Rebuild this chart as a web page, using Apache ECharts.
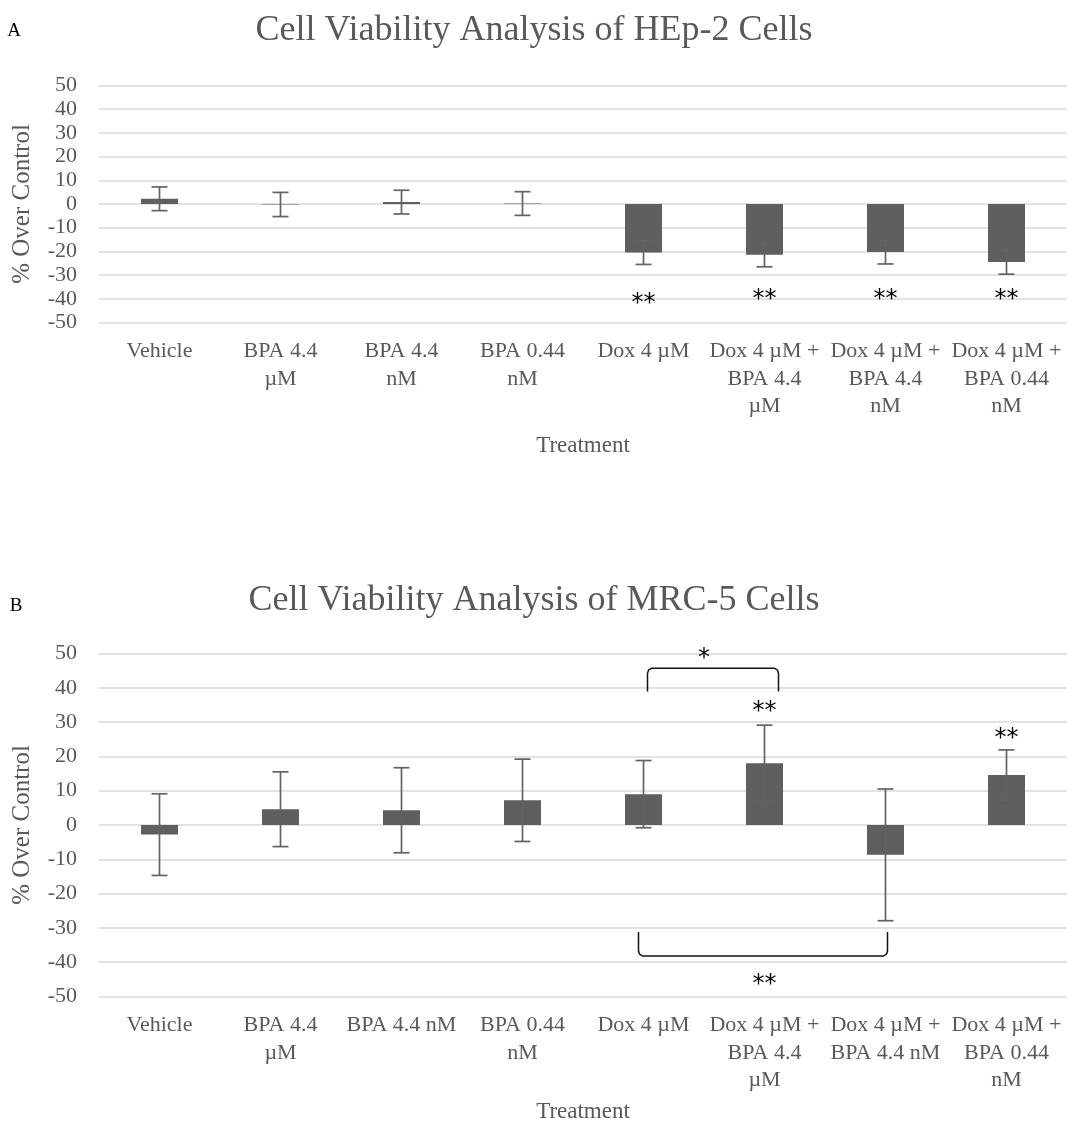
<!DOCTYPE html>
<html>
<head>
<meta charset="utf-8">
<script src="https://cdn.jsdelivr.net/npm/echarts@6/dist/echarts.min.js"></script>
<style>
  html, body { margin: 0; padding: 0; background: #fff; }
  #charts { width: 1084px; height: 1130px; }
</style>
</head>
<body>
<div id="charts"></div>
<script>
// categories as printed under each chart (line breaks as in the figure)
var hep2Cats = ['Vehicle', 'BPA 4.4\nµM', 'BPA 4.4\nnM', 'BPA 0.44\nnM', 'Dox 4 µM',
  'Dox 4 µM +\nBPA 4.4\nµM', 'Dox 4 µM +\nBPA 4.4\nnM', 'Dox 4 µM +\nBPA 0.44\nnM'];
var mrc5Cats = ['Vehicle', 'BPA 4.4\nµM', 'BPA 4.4 nM', 'BPA 0.44\nnM', 'Dox 4 µM',
  'Dox 4 µM +\nBPA 4.4\nµM', 'Dox 4 µM +\nBPA 4.4 nM', 'Dox 4 µM +\nBPA 0.44\nnM'];

// % over control, mean and error
var hep2Mean = [2.2, -0.2, 0.8, 0.2, -20.5, -21.4, -20.3, -24.5];
var hep2Err = [5.0, 5.1, 5.0, 5.0, 5.0, 5.1, 5.0, 5.1];
var mrc5Mean = [-2.8, 4.6, 4.3, 7.2, 9.0, 18.0, -8.7, 14.6];
var mrc5Err = [11.9, 10.9, 12.4, 12.0, 9.8, 11.1, 19.2, 7.3];

// significance marks: from/to category, text, y value
var hep2StarFrom = [4, 5, 6, 7];
var hep2StarTo = [4, 5, 6, 7];
var hep2StarText = ['**', '**', '**', '**'];
var hep2StarY = [-40, -38.4, -38.4, -38.4];

var mrc5StarFrom = [4, 5, 7, 4];
var mrc5StarTo = [5, 5, 7, 6];
var mrc5StarText = ['*', '**', '**', '**'];
var mrc5StarY = [50, 34.5, 26.5, -45.2];

// brackets: from/to category, y of the bar, y where the legs end
var mrc5BrFrom = [4, 4];
var mrc5BrTo = [5, 6];
var mrc5BrBar = [45.7, -38.2];
var mrc5BrLeg = [38.9, -31.2];

var yTicks = { min: -50, max: 50, interval: 10 };

var serif = '"Liberation Serif", "Times New Roman", serif';
var grey = '#595959';
var barColor = '#5f5f5f';
// hand-drawn brackets don't sit exactly on bar centres (px nudges for left/right ends)
var bracketNudge = [[4, 14], [-5, 2]];

function zip() {
  var arrs = Array.prototype.slice.call(arguments);
  return arrs[0].map(function (v, i) {
    return arrs.map(function (a) { return a[i]; });
  });
}

function errorItem(params, api) {
  var i = api.value(0);
  var hi = api.coord([i, api.value(1) + api.value(2)]);
  var lo = api.coord([i, api.value(1) - api.value(2)]);
  var w = 8;
  var st = { stroke: '#636363', lineWidth: 1.7 };
  return {
    type: 'group',
    children: [
      { type: 'line', shape: { x1: hi[0], y1: hi[1], x2: lo[0], y2: lo[1] }, style: st },
      { type: 'line', shape: { x1: hi[0] - w, y1: hi[1], x2: hi[0] + w, y2: hi[1] }, style: st },
      { type: 'line', shape: { x1: lo[0] - w, y1: lo[1], x2: lo[0] + w, y2: lo[1] }, style: st }
    ]
  };
}

function starItem(params, api) {
  var a = api.coord([api.value(0), api.value(3)]);
  var b = api.coord([api.value(1), api.value(3)]);
  return {
    type: 'text',
    x: (a[0] + b[0]) / 2,
    y: a[1] + 5, // asterisks sit high in the em box
    style: {
      text: api.value(2),
      font: '24px "DejaVu Sans", sans-serif',
      fill: '#000',
      textAlign: 'center',
      textVerticalAlign: 'middle'
    }
  };
}

function bracketItem(params, api) {
  var a = api.coord([api.value(0), api.value(2)]);
  var b = api.coord([api.value(1), api.value(2)]);
  var legY = api.coord([api.value(0), api.value(3)])[1];
  var barY = a[1];
  var d = legY > barY ? 1 : -1;
  var n = bracketNudge[params.dataIndex] || [0, 0];
  var x1 = a[0] + n[0], x2 = b[0] + n[1];
  var pts = [
    [x1, legY], [x1, barY + 5 * d], [x1 + 1, barY + 2 * d], [x1 + 4, barY],
    [x2 - 4, barY], [x2 - 1, barY + 2 * d], [x2, barY + 5 * d], [x2, legY]
  ];
  return {
    type: 'polyline',
    shape: { points: pts },
    style: { stroke: '#111', lineWidth: 1.5, fill: null }
  };
}

function xAxisFor(cats, idx, gap) {
  return {
    type: 'category', gridIndex: idx, data: cats,
    name: 'Treatment', nameLocation: 'middle', nameGap: gap,
    nameTextStyle: { fontFamily: serif, fontSize: 23, color: grey },
    axisLine: { show: false }, axisTick: { show: false },
    axisLabel: { interval: 0, fontFamily: serif, fontSize: 22, lineHeight: 27.5, color: grey, margin: 15 }
  };
}

function yAxisFor(idx) {
  return {
    type: 'value', gridIndex: idx, min: yTicks.min, max: yTicks.max, interval: yTicks.interval,
    name: '% Over Control', nameLocation: 'middle', nameGap: 64,
    nameTextStyle: { fontFamily: serif, fontSize: 25, color: grey },
    axisLine: { show: false }, axisTick: { show: false },
    axisLabel: { fontFamily: serif, fontSize: 22, color: grey, margin: 22 },
    splitLine: { lineStyle: { color: '#d9d9d9', width: 1.5 } }
  };
}

var myChart = echarts.init(document.getElementById('charts'));

var option = {
  backgroundColor: '#fff',
  animation: false,
  graphic: [
    { type: 'text', x: 14, y: 31, style: { text: 'A', font: '19px ' + serif, fill: '#000', textAlign: 'center', textVerticalAlign: 'middle' } },
    { type: 'text', x: 534, y: 31, style: { text: 'Cell Viability Analysis of HEp-2 Cells', font: '36px ' + serif, fill: grey, textAlign: 'center', textVerticalAlign: 'middle' } },
    { type: 'text', x: 16, y: 606, style: { text: 'B', font: '19px ' + serif, fill: '#000', textAlign: 'center', textVerticalAlign: 'middle' } },
    { type: 'text', x: 534, y: 601, style: { text: 'Cell Viability Analysis of MRC-5 Cells', font: '36px ' + serif, fill: grey, textAlign: 'center', textVerticalAlign: 'middle' } }
  ],
  grid: [
    { left: 99, right: 17, top: 85.5, height: 237 },
    { left: 99, right: 17, top: 653.5, height: 343 }
  ],
  xAxis: [xAxisFor(hep2Cats, 0, 112), xAxisFor(mrc5Cats, 1, 104)],
  yAxis: [yAxisFor(0), yAxisFor(1)],
  series: [
    {
      type: 'bar', xAxisIndex: 0, yAxisIndex: 0, data: hep2Mean,
      barWidth: 37, itemStyle: { color: barColor }
    },
    {
      type: 'custom', xAxisIndex: 0, yAxisIndex: 0, renderItem: errorItem,
      data: zip(hep2Mean.map(function (v, i) { return i; }), hep2Mean, hep2Err), z: 3
    },
    {
      type: 'custom', xAxisIndex: 0, yAxisIndex: 0, renderItem: starItem,
      data: zip(hep2StarFrom, hep2StarTo, hep2StarText, hep2StarY), z: 4
    },
    {
      type: 'bar', xAxisIndex: 1, yAxisIndex: 1, data: mrc5Mean,
      barWidth: 37, itemStyle: { color: barColor }
    },
    {
      type: 'custom', xAxisIndex: 1, yAxisIndex: 1, renderItem: errorItem,
      data: zip(mrc5Mean.map(function (v, i) { return i; }), mrc5Mean, mrc5Err), z: 3
    },
    {
      type: 'custom', xAxisIndex: 1, yAxisIndex: 1, renderItem: starItem,
      data: zip(mrc5StarFrom, mrc5StarTo, mrc5StarText, mrc5StarY), z: 4
    },
    {
      type: 'custom', xAxisIndex: 1, yAxisIndex: 1, renderItem: bracketItem,
      data: zip(mrc5BrFrom, mrc5BrTo, mrc5BrBar, mrc5BrLeg), z: 4
    }
  ]
};

myChart.setOption(option);
window.addEventListener('resize', function () {
  myChart.resize();
});
</script>
</body>
</html>
